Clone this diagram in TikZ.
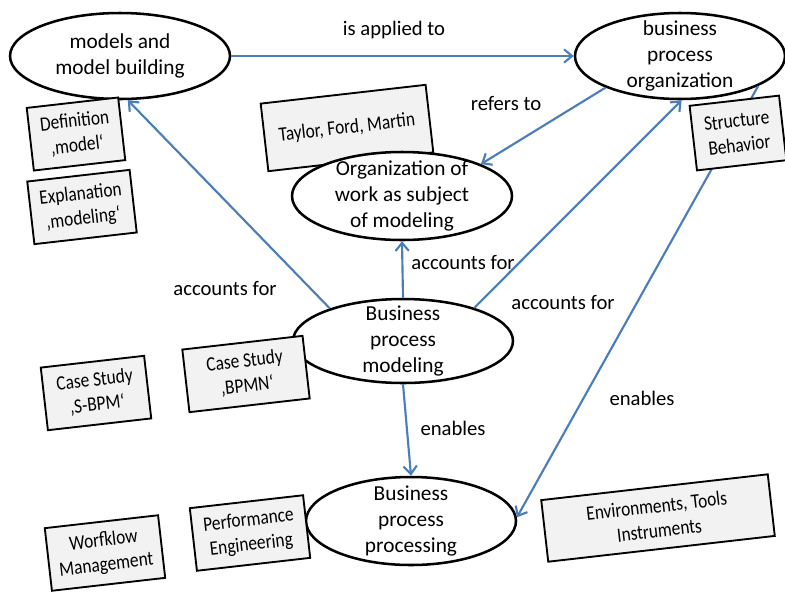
\documentclass[tikz,border=0pt]{standalone}
\usepackage{fontspec}
\setmainfont{Carlito}
\newfontfamily\boxfont[FakeStretch=0.85]{Carlito}
\usepackage{xcolor}
\usetikzlibrary{shapes.geometric}
\usetikzlibrary{arrows.meta}
\definecolor{LinkBlue}{HTML}{4A7EBB}
\definecolor{NoteGray}{HTML}{F2F2F2}

\begin{document}
\begin{tikzpicture}[x=0.75pt,y=-0.75pt,
    topic/.style={ellipse, draw, line width=1.9pt, fill=white, inner sep=0pt},
    topictext/.style={align=center, inner sep=0pt, font=\fontsize{16}{19.5}\selectfont},
    note/.style={draw, line width=1.4pt, fill=NoteGray, inner sep=0pt, align=center, rotate=6.5,
      font=\boxfont\fontsize{15.3}{18.5}\selectfont},
    link/.style={draw=LinkBlue, line width=1.6pt, -{Straight Barb[length=6pt,width=10pt]}},
    tag/.style={font=\fontsize{15.5}{18}\selectfont}]
      \useasboundingbox (0,0) rectangle (785,594);
      \node [note, minimum width=124.5pt, minimum height=51pt] (taylor) at (347,128) {Taylor, Ford, Martin};
      \node [topic, minimum width=165pt, minimum height=64.5pt,
        label={[topictext]center:models and\\model building}] (models) at (120,56) {};
      \node [topic, minimum width=157.5pt, minimum height=64.5pt,
        label={[topictext]center:business\\process\\organization}] (bporg) at (680,56) {};
      \node [topic, minimum width=165pt, minimum height=66pt,
        label={[topictext]center:Organization of\\work as subject\\of modeling}] (work) at (402,196) {};
      \node [topic, minimum width=165pt, minimum height=63pt,
        label={[topictext]center:Business\\process\\modeling}] (bpmod) at (403,341) {};
      \node [topic, minimum width=157.5pt, minimum height=66pt,
        label={[topictext]center:Business\\process\\processing}] (bpproc) at (411,521) {};
      \draw [link] (models.east) -- (bporg.west);
      \draw [link] (bporg.203) -- (work.22);
      \draw [link] (bpmod.156) -- (models.280);
      \draw [link] (bpmod.north) -- (work.south);
      \draw [link] (bpmod.25) -- (bporg.272);
      \draw [link] (bpmod.south) -- (bpproc.north);
      \draw [link] (bporg.339) -- (bpproc.2);
      \node [note, minimum width=69pt, minimum height=47.25pt] (defmodel) at (76,134) {Definition\\‚model‘};
      \node [note, minimum width=77.25pt, minimum height=47.25pt] (explmodel) at (82,207) {Explanation\\‚modeling‘};
      \node [note, minimum width=67.5pt, minimum height=48.75pt] (structure) at (738,133) {Structure\\Behavior};
      \node [note, minimum width=78pt, minimum height=47.25pt] (sbpm) at (96,393) {Case Study\\‚S-BPM‘};
      \node [note, minimum width=90.75pt, minimum height=47.25pt] (bpmn) at (246,374) {Case Study\\‚BPMN‘};
      \node [note, minimum width=85.5pt, minimum height=47.25pt] (workflow) at (105,553) {Worfklow\\Management};
      \node [note, minimum width=85.5pt, minimum height=47.25pt] (perf) at (250,533) {Performance\\Engineering};
      \node [note, minimum width=171pt, minimum height=46.5pt] (envtools) at (658,518) {Environments, Tools\\Instruments};
      \node [tag] (lblapplied) at (394,30) {is applied to};
      \node [tag] (lblrefers) at (506,103) {refers to};
      \node [tag] (lblaccleft) at (225,288) {accounts for};
      \node [tag] (lblaccmid) at (463,262) {accounts for};
      \node [tag] (lblaccright) at (563,302) {accounts for};
      \node [tag] (lblenmid) at (453,428) {enables};
      \node [tag] (lblenright) at (642,398) {enables};
    \end{tikzpicture}
\end{document}
